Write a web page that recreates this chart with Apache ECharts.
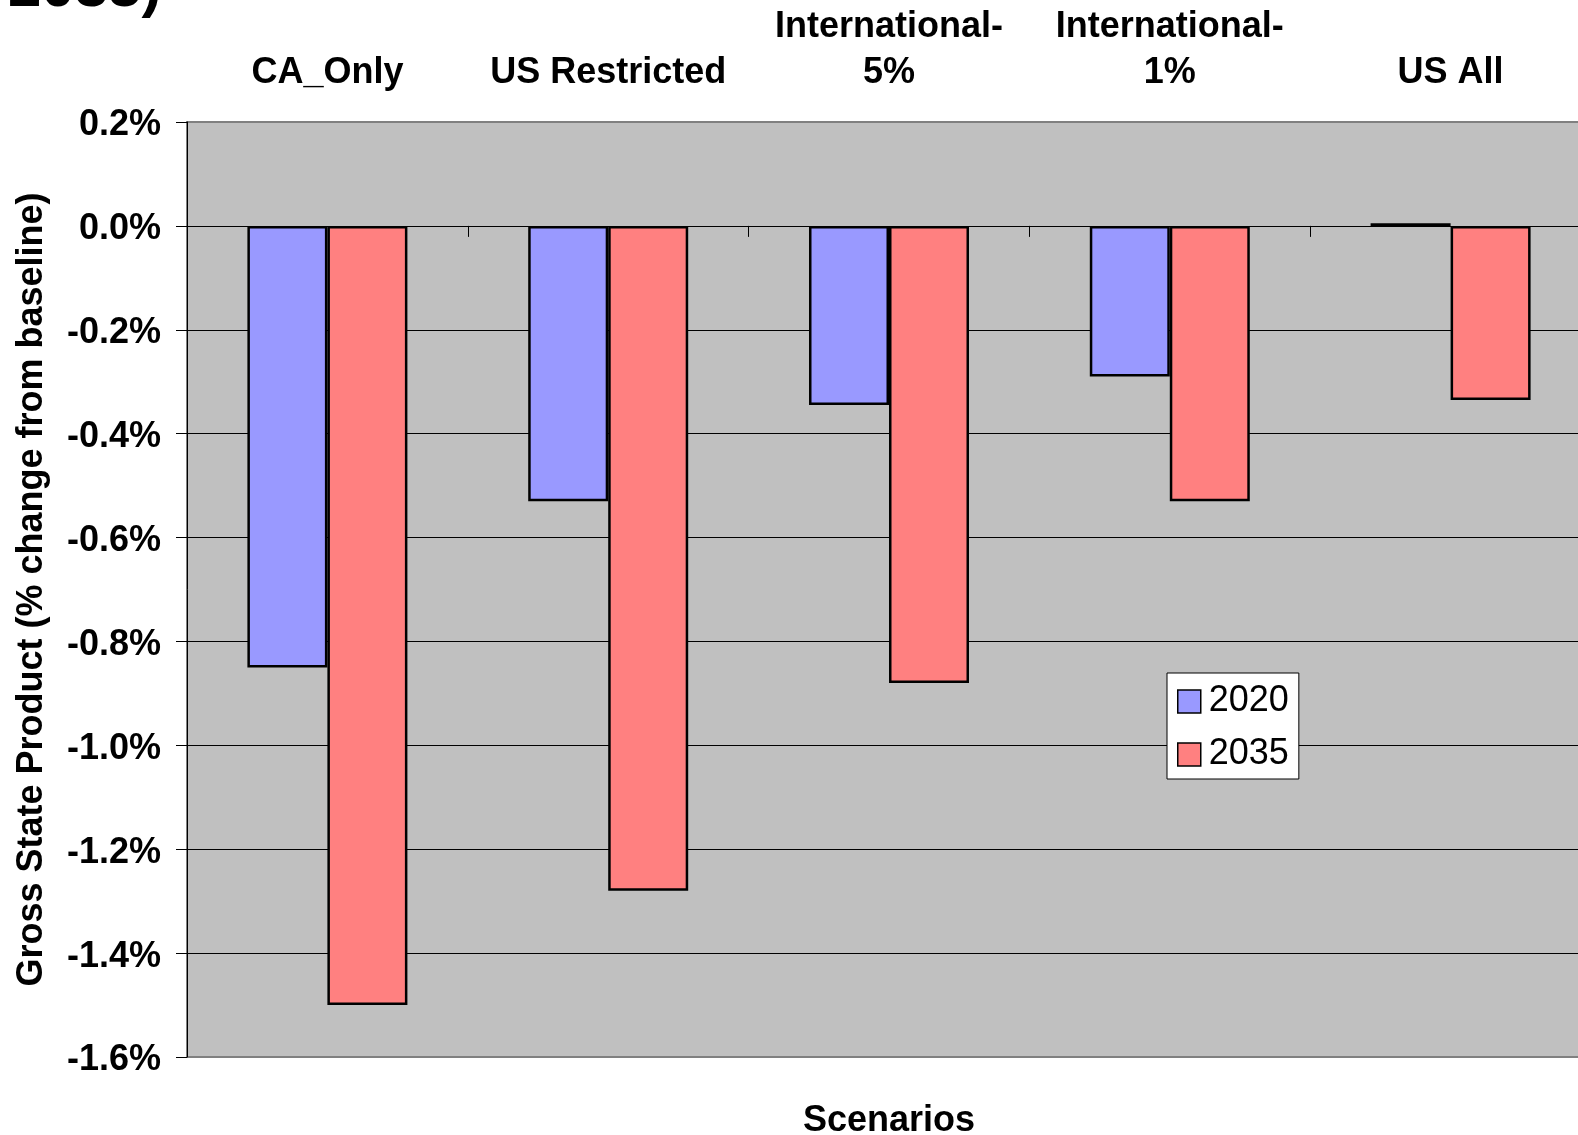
<!DOCTYPE html>
<html>
<head>
<meta charset="utf-8">
<title>Gross State Product by Scenario</title>
<script src="https://cdn.jsdelivr.net/npm/echarts@6/dist/echarts.min.js"></script>
<style>
  html, body { margin: 0; padding: 0; background: #fff; overflow: hidden; }
  #chart { width: 1600px; height: 1135px; }
</style>
</head>
<body>
<div id="chart"></div>
<script>
// Scenario categories (shown along the top of the plot)
const scenarios = ['CA_Only', 'US Restricted', 'International-\n5%', 'International-\n1%', 'US All'];

// Gross State Product, % change from baseline
const gsp2020 = [-0.85, -0.53, -0.345, -0.29, 0.005];
const gsp2035 = [-1.50, -1.28, -0.88, -0.53, -0.335];

// Value axis range (percent)
const yMin = -1.6;
const yMax = 0.2;
const yStep = 0.2;

const FONT = 'Arial, "Liberation Sans", Helvetica, sans-serif';

const chart = echarts.init(document.getElementById('chart'), null, { renderer: 'canvas' });

function pctLabel(v) {
  if (Math.abs(v) < 1e-9) v = 0;
  return v.toFixed(1) + '%';
}

const barStyle = (color) => ({
  color: color,
  borderColor: '#000',
  borderWidth: 2.5
});

chart.setOption({
  animation: false,
  backgroundColor: '#fff',
  graphic: [
    {
      type: 'text',
      x: 8,
      y: -11,
      silent: true,
      style: {
        text: '2035)',
        font: 'bold 60px ' + FONT,
        fill: '#000',
        align: 'left',
        verticalAlign: 'middle',
        textAlign: 'left',
        textVerticalAlign: 'middle'
      }
    },
    {
      type: 'text',
      x: 889,
      y: 1121,
      silent: true,
      style: {
        text: 'Scenarios',
        font: 'bold 36px ' + FONT,
        fill: '#000',
        align: 'center',
        verticalAlign: 'middle',
        textAlign: 'center',
        textVerticalAlign: 'middle'
      }
    }
  ],
  legend: {
    data: ['2020', '2035'],
    orient: 'vertical',
    left: 1167,
    top: 673,
    itemWidth: 23,
    itemHeight: 23,
    itemGap: 14,
    padding: [9, 10, 5, 10],
    backgroundColor: '#fff',
    borderColor: '#000',
    borderWidth: 1,
    borderRadius: 0,
    selectedMode: false,
    icon: 'rect',
    itemStyle: { borderWidth: 1.5 },
    textStyle: {
      fontFamily: FONT,
      fontSize: 36,
      color: '#000',
      lineHeight: 36,
      padding: [3, 0, 0, 3]
    }
  },
  grid: {
    left: 187,
    top: 122,
    width: 1404,
    bottom: 78,
    show: true,
    backgroundColor: '#C0C0C0',
    borderColor: '#808080',
    borderWidth: 2,
    containLabel: false
  },
  xAxis: [
    {
      // scenario names above the plot
      type: 'category',
      data: scenarios,
      position: 'top',
      axisLine: { show: false, onZero: false },
      axisTick: { show: false },
      axisLabel: {
        interval: 0,
        margin: 26,
        fontFamily: FONT,
        fontSize: 36,
        fontWeight: 'bold',
        color: '#000',
        lineHeight: 46,
        align: 'center'
      },
      splitLine: { show: false }
    },
    {
      // category axis line with ticks crossing at 0%
      type: 'category',
      data: scenarios,
      position: 'bottom',
      axisLine: { show: true, onZero: true, onZeroAxisIndex: 0, lineStyle: { color: '#000', width: 1 } },
      axisTick: { show: true, length: 11, lineStyle: { color: '#000', width: 1 } },
      axisLabel: { show: false },
      splitLine: { show: false }
    }
  ],
  yAxis: {
    type: 'value',
    min: yMin,
    max: yMax,
    interval: yStep,
    name: 'Gross State Product (% change from baseline)',
    nameLocation: 'middle',
    nameGap: 137,
    nameRotate: 90,
    nameTextStyle: {
      fontFamily: FONT,
      fontSize: 36,
      fontWeight: 'bold',
      color: '#000'
    },
    axisLine: { show: true, lineStyle: { color: '#000', width: 1 } },
    axisTick: { show: true, length: 11, lineStyle: { color: '#000', width: 1 } },
    axisLabel: {
      margin: 26,
      formatter: pctLabel,
      fontFamily: FONT,
      fontSize: 36,
      fontWeight: 'bold',
      color: '#000',
      verticalAlign: 'top',
      lineHeight: 7
    },
    splitLine: {
      show: true,
      showMinLine: false,
      showMaxLine: false,
      lineStyle: { color: '#000', width: 1 }
    }
  },
  series: [
    {
      name: '2020',
      type: 'bar',
      xAxisIndex: 1,
      data: gsp2020,
      barWidth: 80,
      barGap: '0%',
      itemStyle: barStyle('#9999FF'),
      emphasis: { disabled: true }
    },
    {
      name: '2035',
      type: 'bar',
      xAxisIndex: 1,
      data: gsp2035,
      barWidth: 80,
      barGap: '0%',
      itemStyle: barStyle('#FF8080'),
      emphasis: { disabled: true }
    }
  ]
});
</script>
</body>
</html>
